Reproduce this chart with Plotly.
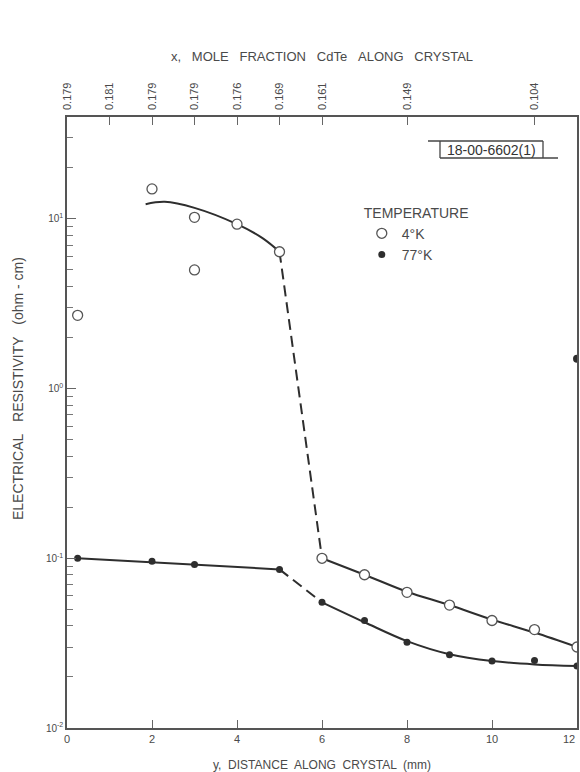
import plotly.graph_objects as go

# ---- data ----
x_4k = [0.25, 2, 3, 3, 4, 5, 6, 7, 8, 9, 10, 11, 12]
r_4k = [2.7, 15.0, 10.2, 5.0, 9.3, 6.4, 0.100, 0.080, 0.063, 0.053, 0.043, 0.038, 0.030]
x_77k = [0.25, 2, 3, 5, 6, 7, 8, 9, 10, 11, 12]
r_77k = [0.100, 0.096, 0.092, 0.086, 0.055, 0.043, 0.032, 0.027, 0.0248, 0.025, 0.0232]
x_stray = [12]
r_stray = [1.5]

# drawn curves
fit4_hi_x = [1.85, 2.3, 3, 4, 4.6, 5]
fit4_hi_y = [12.2, 12.6, 11.6, 9.3, 7.7, 6.4]
fit4_dash_x = [5, 6]
fit4_dash_y = [6.4, 0.100]
fit4_lo_x = [6, 7, 8, 9, 10, 11, 12]
fit4_lo_y = [0.100, 0.080, 0.0635, 0.053, 0.0435, 0.0365, 0.030]
fit77_hi_x = [0.25, 5]
fit77_hi_y = [0.100, 0.086]
fit77_dash_x = [5, 6]
fit77_dash_y = [0.086, 0.055]
fit77_lo_x = [6, 7, 8, 9, 10, 11, 12]
fit77_lo_y = [0.055, 0.042, 0.0325, 0.0272, 0.0248, 0.0237, 0.0232]

top_tick_pos = [0, 1, 2, 3, 4, 5, 6, 8, 11]
top_tick_text = ["0.179", "0.181", "0.179", "0.179", "0.176", "0.169", "0.161", "0.149", "0.104"]
bottom_ticks = [0, 2, 4, 6, 8, 10, 12]
bottom_tick_text = ["0", "2", "4", "6", "8", "10", ""]
last_tick_label = "12"
y_major = [0.01, 0.1, 1, 10]
y_major_text = ["10<sup>-2</sup>", "10<sup>-1</sup>", "10<sup>0</sup>", "10<sup>1</sup>"]
y_minor = [m * d for d in [0.01, 0.1, 1, 10] for m in range(2, 10) if m * d < 40]

INK = "#2e2e2e"
TXT = "#4a4a4a"
FONT = "Liberation Sans"
SP = "\u00a0\u00a0\u00a0"

fig = go.Figure()

def line(x, y, dash="solid", shape="spline"):
    fig.add_trace(go.Scatter(x=x, y=y, mode="lines", showlegend=False, hoverinfo="skip",
                             line=dict(color=INK, width=2, dash=dash, shape=shape, smoothing=1.0)))

line(fit4_hi_x, fit4_hi_y)
line(fit4_dash_x, fit4_dash_y, dash="11px,6px", shape="linear")
line(fit4_lo_x, fit4_lo_y)
line(fit77_hi_x, fit77_hi_y, shape="linear")
line(fit77_dash_x, fit77_dash_y, dash="11px,6px", shape="linear")
line(fit77_lo_x, fit77_lo_y)

fig.add_trace(go.Scatter(x=x_4k, y=r_4k, mode="markers", name="4°K",
                         marker=dict(symbol="circle", size=10, color="white",
                                     line=dict(color="#555", width=1.3))))
fig.add_trace(go.Scatter(x=x_77k, y=r_77k, mode="markers", name="77°K",
                         marker=dict(symbol="circle", size=7, color=INK)))
fig.add_trace(go.Scatter(x=x_stray, y=r_stray, mode="markers", showlegend=False,
                         marker=dict(symbol="circle", size=8, color=INK)))
# invisible trace to anchor the top axis
fig.add_trace(go.Scatter(x=[0, 12], y=[1, 1], xaxis="x2", mode="markers",
                         marker=dict(opacity=0), showlegend=False, hoverinfo="skip"))

def px(xp):
    return (xp - 67) / 510.0

def py(yp):
    return (728 - yp) / 611.0

box_lines = [
    (428, 141, 543, 141),
    (440, 141, 440, 158),
    (543, 141, 543, 158),
    (440, 158, 558, 158),
]
shapes = [dict(type="line", xref="paper", yref="paper", x0=px(a), y0=py(b), x1=px(c), y1=py(d),
               line=dict(color="#444", width=1.3)) for a, b, c, d in box_lines]

fig.update_layout(
    width=580, height=772,
    margin=dict(l=67, r=3, t=117, b=44),
    paper_bgcolor="white", plot_bgcolor="white",
    font=dict(family=FONT, color=TXT, size=11),
    xaxis=dict(range=[0, 12], tickvals=bottom_ticks, ticktext=bottom_tick_text,
               ticks="inside", ticklen=8, automargin=False,
               tickcolor="#666", showline=True, linecolor="#555", linewidth=1.5,
               showgrid=False, zeroline=False, tickfont=dict(size=11, color=TXT),
               title=dict(text="y,  DISTANCE  ALONG  CRYSTAL  (mm)", standoff=26,
                          font=dict(size=12, color=TXT))),
    xaxis2=dict(range=[0, 12], overlaying="x", side="top", tickvals=top_tick_pos,
                ticktext=top_tick_text, tickangle=-90, ticks="inside", ticklen=8,
                ticklabelstandoff=3, automargin=False,
                tickcolor="#666", showline=True, linecolor="#555", linewidth=1.5,
                showgrid=False, zeroline=False, tickfont=dict(size=11, color=TXT),
                title=dict(text=f"x,{SP}MOLE{SP}FRACTION{SP}CdTe{SP}ALONG{SP}CRYSTAL", standoff=18,
                           font=dict(size=13, color=TXT))),
    yaxis=dict(type="log", range=[-2, 1.6], tickvals=y_major, ticktext=y_major_text,
               ticks="inside", ticklen=9, tickcolor="#666", showline=True, automargin=False,
               linecolor="#555", linewidth=1.5, mirror=True, showgrid=False,
               zeroline=False, tickfont=dict(size=10, color=TXT),
               minor=dict(tickvals=y_minor, ticks="inside", ticklen=6, tickcolor="#777")),
    legend=dict(x=0.578, y=0.865, xanchor="left", yanchor="top",
                title=dict(text="TEMPERATURE", side="top", font=dict(size=14, color=TXT)),
                font=dict(size=14, color=TXT), bgcolor="rgba(0,0,0,0)",
                itemwidth=30, tracegroupgap=0),
    shapes=shapes,
    annotations=[
        dict(text="18-00-6602(1)", xref="paper", yref="paper", x=px(491), y=py(149.5),
             xanchor="center", yanchor="middle", showarrow=False,
             font=dict(size=14, color="#333")),
        dict(text=last_tick_label, xref="x", yref="paper", x=bottom_ticks[-1], y=0,
             xanchor="right", yanchor="top", yshift=-3, showarrow=False,
             font=dict(size=11, color=TXT)),
        dict(text=f"ELECTRICAL{SP}RESISTIVITY{SP}(ohm - cm)", xref="paper", yref="paper",
             x=px(18), y=py(389), xanchor="center", yanchor="middle", textangle=-90,
             showarrow=False, font=dict(size=14, color=TXT)),
    ],
)

fig.write_html("out.html")
